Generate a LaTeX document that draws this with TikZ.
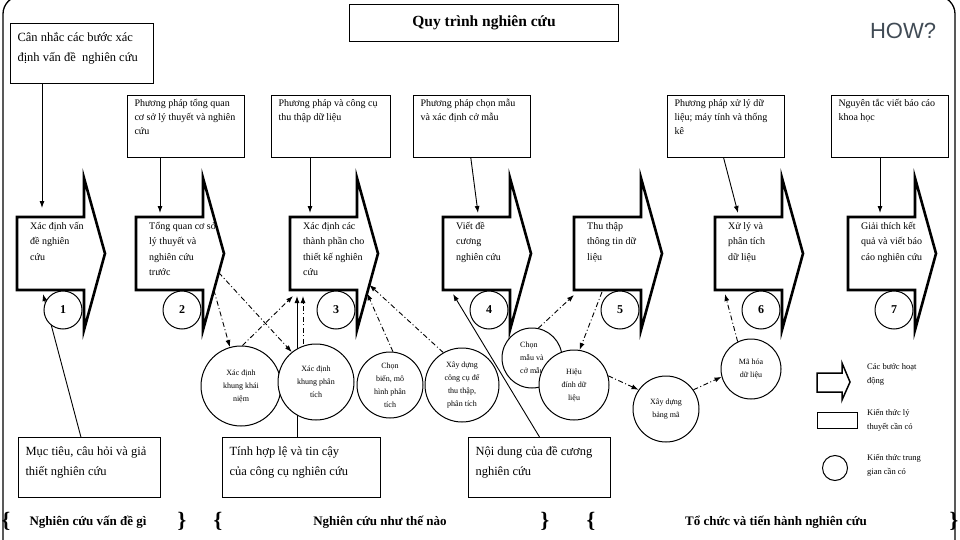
\documentclass[tikz,border=0pt]{standalone}
\usepackage{fontspec}
\setmainfont{Liberation Serif}
\newfontfamily\howfont{Liberation Sans}
\usetikzlibrary{calc,arrows.meta,backgrounds}

\definecolor{howgray}{HTML}{414B55}

% fixed box, text at top left
\newcommand{\kbtext}[3]{\parbox[t][#2][t]{#1}{\raggedright #3}}

\tikzset{
    pics/stepbox/.style 2 args={code={
        \draw[stepline] (0,0) -- (67,0) -- (67,-39) -- (88,36.5) -- (67,113)
            -- (67,73) -- (0,73) -- cycle;
        \coordinate (-nw) at (0,0);
        \coordinate (-sw) at (0,73);
        \coordinate (-tip) at (88,36.5);
        \coordinate (-hb) at (67,113);
        \node[steptext] (-txt) at (13,5) {#1};
        \node[stepnum] (-num) at (46,93) {#2};
    }},
}

\begin{document}
\begin{tikzpicture}[
    x=1pt, y=-1pt,
    stepline/.style={line width=2.6pt, line join=miter, miter limit=20},
    steptext/.style={anchor=north west, inner sep=0pt, align=left,
        font=\fontsize{10}{15.5}\selectfont},
    stepnum/.style={circle, draw, line width=1pt, fill=white, minimum size=38pt,
        inner sep=0pt, font=\fontsize{12}{12}\selectfont\bfseries},
    kbox/.style={draw, line width=1pt, anchor=north west, inner xsep=7pt, inner ysep=4pt,
        font=\fontsize{10}{14}\selectfont},
    kboxl/.style={kbox, inner ysep=9pt, font=\fontsize{12.5}{20}\selectfont},
    midc/.style={circle, draw, line width=1pt, fill=white, inner sep=0pt, align=center,
        font=\fontsize{8}{13}\selectfont},
    legtext/.style={anchor=north west, inner sep=0pt, align=left,
        font=\fontsize{8.5}{14}\selectfont},
    brace/.style={inner sep=0pt, font=\fontsize{22}{22}\selectfont\bfseries},
    part/.style={inner sep=0pt, font=\fontsize{13}{13}\selectfont\bfseries},
    solidarr/.style={-{Latex[length=7pt,width=5pt]}, line width=0.9pt},
    dotarr/.style={-{Latex[length=7pt,width=5pt]}, line width=0.9pt,
        dash pattern=on 5pt off 2.5pt on 1pt off 2.5pt},
]
\useasboundingbox (0,0) rectangle (960,540);

% frame and title
\draw[line width=1.3pt, rounded corners=18pt] (3,-4) rectangle (955,560);
\node[draw, line width=1pt, anchor=north west, minimum width=269pt, minimum height=37pt,
    font=\fontsize{15.5}{15.5}\selectfont\bfseries] (title) at (349,4) {Quy trình nghiên cứu};
\node[font=\howfont\fontsize{22}{22}\selectfont, text=howgray] (how) at (903,31) {HOW?};

% steps
\foreach \n/\x/\t in {
    1/17/{Xác định vấn\\đề nghiên\\cứu},
    2/136/{Tổng quan cơ sở\\lý thuyết và\\nghiên cứu\\trước},
    3/290/{Xác định các\\thành phần cho\\thiết kế nghiên\\cứu},
    4/443/{Viết đề\\cương\\nghiên cứu},
    5/574/{Thu thập\\thông tin dữ\\liệu},
    6/715/{Xử lý và\\phân tích\\dữ liệu},
    7/848/{Giải thích kết\\quả và viết báo\\cáo nghiên cứu}}
    \pic (s\n) at (\x,217) {stepbox={\t}{\n}};

% knowledge boxes, top
\node[kboxl] (tb0) at (10,23) {\kbtext{129pt}{42pt}{Cân nhắc các bước xác\\định vấn đề~ nghiên cứu}};
\node[kbox] (tb2) at (127,95) {\kbtext{103pt}{54pt}{Phương pháp tổng quan\\cơ sở lý thuyết và nghiên\\cứu}};
\node[kbox] (tb3) at (271,95) {\kbtext{105pt}{54pt}{Phương pháp và công cụ\\thu thập dữ liệu}};
\node[kbox] (tb4) at (413,95) {\kbtext{103pt}{54pt}{Phương pháp chọn mẫu\\và xác định cở mẫu}};
\node[kbox] (tb6) at (667,95) {\kbtext{103pt}{54pt}{Phương pháp xử lý dữ\\liệu; máy tính và thống\\kê}};
\node[kbox] (tb7) at (831,95) {\kbtext{103pt}{54pt}{Nguyên tắc viết báo cáo\\khoa học}};

% knowledge boxes, bottom
\node[kboxl] (bb1) at (18,437) {\kbtext{128pt}{42pt}{Mục tiêu, câu hỏi và giả\\thiết nghiên cứu}};
\node[kboxl] (bb2) at (222,437) {\kbtext{144pt}{42pt}{Tính hợp lệ và tin cậy\\của công cụ nghiên cứu}};
\node[kboxl] (bb3) at (468,437) {\kbtext{128pt}{42pt}{Nội dung của đề cương\\nghiên cứu}};

% intermediate knowledge
\node[midc, minimum size=80pt] (ck1) at (241,386) {Xác định\\khung khái\\niệm};
\node[midc, minimum size=76pt] (ck2) at (316,382) {Xác định\\khung phân\\tích};
\node[midc, minimum size=66pt] (ck3) at (390,385) {Chọn\\biến, mô\\hình phân\\tích};
\node[midc, minimum size=74pt] (ck4) at (462,385) {Xây dựng\\công cụ để\\thu thập,\\phân tích};
\node[midc, minimum size=60pt, align=left] (ck5) at (532,358) {Chọn\\mẫu và\\cở mẫu};
\node[midc, minimum size=70pt] (ck6) at (574,385) {Hiệu\\đính dữ\\liệu};
\node[midc, minimum size=66pt] (ck7) at (666,409) {Xây dựng\\bảng mã};
\node[midc, minimum size=60pt] (ck8) at (751,369) {Mã hóa\\dữ liệu};

\begin{scope}[on background layer]
% top boxes into steps
\coordinate (in1) at ([xshift=25pt,yshift=9pt]s1-nw);
\coordinate (in2) at ([xshift=24pt,yshift=4pt]s2-nw);
\coordinate (in3) at ([xshift=20pt,yshift=4pt]s3-nw);
\coordinate (in4) at ([xshift=35pt,yshift=4pt]s4-nw);
\coordinate (in6) at ([xshift=23pt,yshift=4pt]s6-nw);
\coordinate (in7) at ([xshift=32pt,yshift=4pt]s7-nw);
\draw[solidarr] (tb0.south -| in1) -- (in1);
\draw[solidarr] (tb2.south -| in2) -- (in2);
\draw[solidarr] (tb3.south -| in3) -- (in3);
\draw[solidarr] ($(tb4.south west)!0.49!(tb4.south east)$) -- (in4);
\draw[solidarr] ($(tb6.south west)!0.48!(tb6.south east)$) -- (in6);
\draw[solidarr] (tb7.south -| in7) -- (in7);

% bottom boxes into steps
\coordinate (up1) at ([xshift=26pt,yshift=-4pt]s1-sw);
\coordinate (up3) at ([xshift=7pt,yshift=-6pt]s3-sw);
\coordinate (up3b) at ([xshift=13pt,yshift=-6pt]s3-sw);
\coordinate (up4) at ([xshift=10pt,yshift=-4pt]s4-sw);
\draw[solidarr] ($(bb1.north west)!0.44!(bb1.north east)$) -- (up1);
\draw[solidarr] (bb2.north -| up3) -- (up3);
\draw[solidarr] (bb3.north) -- (up4);

% intermediate links
\draw[dotarr] ($(s2-tip)!0.25!(s2-hb)$) -- (ck2.129);
\draw[dotarr] ($(s2-tip)!0.48!(s2-hb)$) -- (ck1.106);
\draw[dotarr] (ck1.88) -- ([xshift=3pt,yshift=-6pt]s3-sw);
\draw[dotarr] (ck2.north -| up3b) -- (up3b);
\draw[dotarr] (ck3.85) -- ($(s3-tip)!0.52!(s3-hb)$);
\draw[dotarr] (ck4.120) -- ($(s3-tip)!0.41!(s3-hb)$);
\draw[dotarr] (ck5.78) -- ([yshift=-5pt]s5-sw);
\draw[dotarr] ([xshift=28pt,yshift=-2pt]s5-sw) -- (ck6.81);
\draw[dotarr] (ck6.15) -- (ck7.145);
\draw[dotarr] (ck7.35) -- (ck8.195);
\draw[dotarr] (ck8.116) -- ([xshift=10pt,yshift=-4pt]s6-sw);
\end{scope}

% legend
\draw[line width=1.5pt, line join=miter] (817,373) -- (842,373) -- (842,363) -- (850,382)
    -- (842,400) -- (842,392) -- (817,392) -- cycle;
\node[draw, line width=1pt, anchor=north west, minimum width=40pt, minimum height=16pt,
    inner sep=0pt] (lgbox) at (817,412) {};
\node[circle, draw, line width=1pt, minimum size=25pt, inner sep=0pt] (lgcirc) at (835,468) {};
\node[legtext] (lgt1) at (867,363) {Các bước hoạt\\động};
\node[legtext] (lgt2) at (867,409) {Kiến thức lý\\thuyết cần có};
\node[legtext] (lgt3) at (867,454) {Kiến thức trung\\gian cần có};

% parts
\node[brace] (p1a) at (6,521) {\{};
\node[part] (p1) at (88,522) {Nghiên cứu vấn đề gì};
\node[brace] (p1b) at (182,521) {\}};
\node[brace] (p2a) at (218,521) {\{};
\node[part] (p2) at (380,522) {Nghiên cứu như thế nào};
\node[brace] (p2b) at (545,521) {\}};
\node[brace] (p3a) at (591,521) {\{};
\node[part] (p3) at (776,522) {Tổ chức và tiến hành nghiên cứu};
\node[brace] (p3b) at (954,521) {\}};
\end{tikzpicture}
\end{document}
